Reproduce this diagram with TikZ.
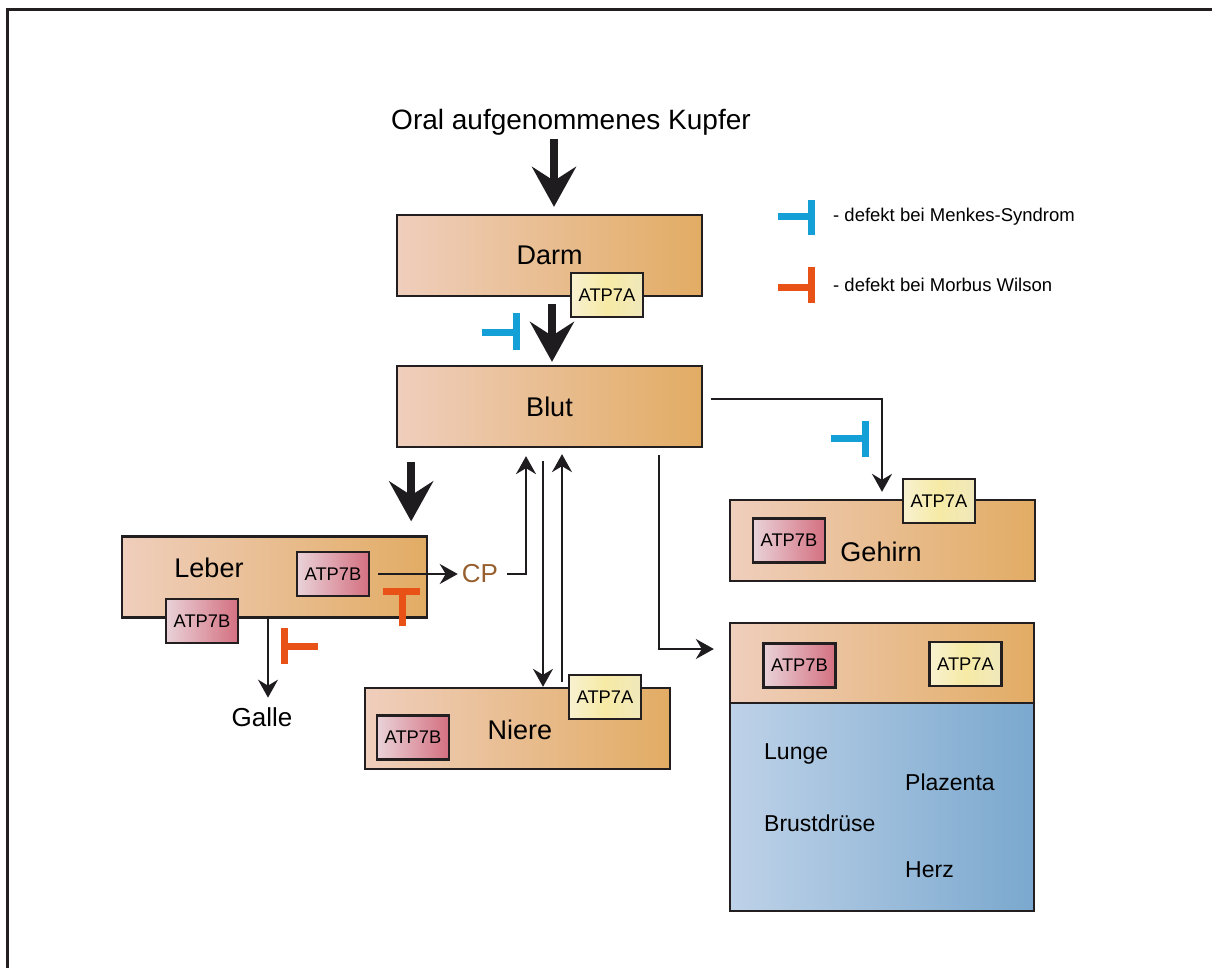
\documentclass[tikz,border=0pt]{standalone}
\usepackage{fontspec}
\setmainfont{Liberation Sans}
\usetikzlibrary{arrows.meta,calc}
\definecolor{edgec}{RGB}{35,31,32}
\definecolor{orgL}{RGB}{239,206,188}
\definecolor{orgR}{RGB}{226,172,100}
\definecolor{bL}{RGB}{233,210,216}
\definecolor{bR}{RGB}{212,112,128}
\definecolor{aL}{RGB}{248,241,208}
\definecolor{aM}{RGB}{246,234,165}
\definecolor{aR}{RGB}{240,232,188}
\definecolor{blueL}{RGB}{190,210,232}
\definecolor{blueR}{RGB}{122,168,206}
\definecolor{cpc}{RGB}{150,95,45}
\definecolor{menkesc}{RGB}{20,160,215}
\definecolor{wilsonc}{RGB}{232,82,22}
\definecolor{arrowc}{RGB}{30,28,30}
\begin{document}
\begin{tikzpicture}[x=1pt,y=-1pt,
  organ/.style={draw=edgec, line width=2.3pt, left color=orgL, right color=orgR,
    minimum width=305pt, minimum height=81pt, inner sep=0pt, font=\fontsize{27}{30}\selectfont},
  bodybox/.style={draw=edgec, line width=2.3pt, left color=blueL, right color=blueR,
    minimum width=304pt, minimum height=208pt, inner sep=0pt},
  atpb/.style={draw=edgec, line width=2.3pt, left color=bL, right color=bR,
    minimum width=72pt, minimum height=44pt, inner sep=0pt, font=\fontsize{18.3}{20}\selectfont},
  atpa/.style={draw=edgec, line width=2.3pt, left color=aL, right color=aR, middle color=aM,
    minimum width=72pt, minimum height=44pt, inner sep=0pt, font=\fontsize{18.3}{20}\selectfont},
  lbl/.style={inner sep=0pt, font=\fontsize{27}{30}\selectfont},
  tissue/.style={anchor=west, inner sep=0pt, font=\fontsize{23}{26}\selectfont},
  legtext/.style={anchor=west, inner sep=0pt, font=\fontsize{18.5}{21}\selectfont},
  bigarrow/.style={draw=arrowc, line width=8pt, -{Stealth[length=40pt,width=44pt,inset=14pt]}},
  thinarrow/.style={draw=arrowc, line width=2pt, -{Stealth[length=18pt,width=20pt,inset=6pt]}},
  menkes/.style={draw=menkesc, line width=7pt},
  wilson/.style={draw=wilsonc, line width=7pt},
]
\useasboundingbox (0,0) rectangle (1212,968);
% frame
\draw[edgec, line width=3pt] (7,968) -- (7,10) -- (1212,10);

% title
\node[inner sep=0pt, font=\fontsize{28}{32}\selectfont] (title) at (571,122) {Oral aufgenommenes Kupfer};

% organ boxes
\node[organ] (darm) at (549.5,255.5) {Darm};
\node[atpa] (darmA) at (607,295) {ATP7A};

\node[organ] (blut) at (549.5,406.5) {Blut};

\node[organ] (leber) at (274.5,577) {};
\node[lbl] (leberlbl) at (209,568) {Leber};
\node[atpb] (leberB1) at (333,574) {ATP7B};
\node[atpb] (leberB2) at (202,621) {ATP7B};

\node[organ] (gehirn) at (882.5,540.5) {};
\node[lbl] (gehirnlbl) at (881,552) {Gehirn};
\node[atpa] (gehirnA) at (939,501) {ATP7A};
\node[atpb] (gehirnB) at (789,540.5) {ATP7B};

\node[organ] (niere) at (517.5,728.5) {};
\node[lbl] (nierelbl) at (520,730) {Niere};
\node[atpa] (niereA) at (605,697) {ATP7A};
\node[atpb] (niereB) at (413,737.5) {ATP7B};

\node[bodybox] (bodybot) at (882,807) {};
\node[organ, minimum width=304pt, minimum height=80pt] (bodytop) at (882,663) {};
\node[atpb] (bodyB) at (799.5,665.5) {ATP7B};
\node[atpa] (bodyA) at (965.5,664) {ATP7A};
\node[tissue] (lunge) at (764,754) {Lunge};
\node[tissue] (plazenta) at (905,782) {Plazenta};
\node[tissue] (brust) at (764,823) {Brustdrüse};
\node[tissue] (herz) at (905,870) {Herz};

\node[inner sep=0pt, text=cpc, font=\fontsize{26}{30}\selectfont] (cp) at (480,574) {CP};
\node[inner sep=0pt, font=\fontsize{26}{30}\selectfont] (galle) at (262,717) {Galle};

% big arrows
\draw[bigarrow] ($(darm.north)+(4.5,-75)$) -- ($(darm.north)+(4.5,-7)$);
\draw[bigarrow] ($(darm.south)+(2.5,7)$) -- ($(blut.north)+(2.5,-3)$);
\draw[bigarrow] ($(leber.north east)+(-17,-73)$) -- ($(leber.north east)+(-17,-14)$);

% thin connectors
\draw[thinarrow] ($(leberB1.east)+(8,0)$) -- ($(cp.west)+(-4,0)$);
\draw[thinarrow] ($(cp.east)+(9,0)$) -| ($(blut.south)+(-23.5,8)$);
\draw[thinarrow] ($(blut.south)+(-6.5,13)$) -- ($(niere.north)+(25.5,0)$);
\draw[thinarrow] ($(niere.north)+(44.5,-5)$) -- ($(blut.south)+(12.5,6)$);
\draw[thinarrow] ($(blut.east)+(8,-7.5)$) -| ($(gehirn.north)+(-0.5,-7)$);
\draw[thinarrow] ($(blut.south east)+(-44,7)$) |- ($(bodytop.west)+(-15,-14)$);
\draw[thinarrow] ($(leber.south)+(-6.5,-3)$) -- ($(leber.south)+(-6.5,79)$);

% inhibition symbols
\draw[menkes] (482,332) -- (516,332);
\draw[menkes] (516,313) -- (516,350);
\draw[menkes] (831,438) -- (865,438);
\draw[menkes] (865,421) -- (865,457);
\draw[wilson] (383,591.5) -- (420,591.5);
\draw[wilson] (402,591.5) -- (402,626);
\draw[wilson] (284,628) -- (284,664);
\draw[wilson] (284,646) -- (318,646);

% legend
\draw[menkes] (778,217) -- (811,217);
\draw[menkes] (811,200) -- (811,235);
\node[legtext] (legm) at (833,217) {- defekt bei Menkes-Syndrom};
\draw[wilson] (778,287) -- (811,287);
\draw[wilson] (811,267) -- (811,303);
\node[legtext] (legw) at (833,285) {- defekt bei Morbus Wilson};
\end{tikzpicture}
\end{document}
